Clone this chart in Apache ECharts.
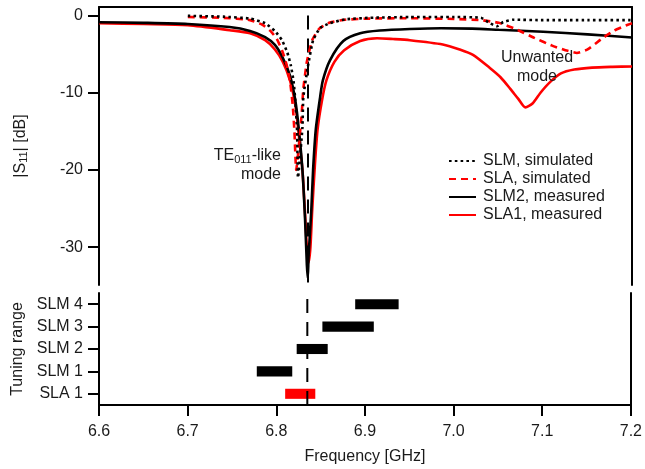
<!DOCTYPE html>
<html>
<head>
<meta charset="utf-8">
<script src="https://cdn.jsdelivr.net/npm/echarts@6/dist/echarts.min.js"></script>
<style>html,body{margin:0;padding:0;background:#fff}#c{width:645px;height:469px}</style>
</head>
<body>
<div id="c"></div>
<script>
// ---- data ----
const slmSimFreq = [6.700, 6.740, 6.770, 6.787, 6.798, 6.806, 6.812, 6.816, 6.819, 6.821, 6.823, 6.824, 6.829, 6.830, 6.835, 6.841, 6.849, 6.860, 6.877, 6.905, 6.950, 7.000, 7.030, 7.040, 7.048, 7.055, 7.066, 7.100, 7.150, 7.200];
const slmSimDb   = [-0.05, -0.15, -0.4, -1.0, -2.0, -3.2, -4.8, -6.5, -8.5, -11, -15, -21, -14.5, -10.6, -6.7, -3.2, -1.6, -1.0, -0.5, -0.3, -0.2, -0.2, -0.3, -1.0, -1.4, -0.85, -0.55, -0.6, -0.6, -0.6];

const slaSimFreq = [6.700, 6.740, 6.770, 6.784, 6.793, 6.800, 6.806, 6.811, 6.815, 6.818, 6.820, 6.822, 6.828, 6.830, 6.834, 6.840, 6.848, 6.860, 6.877, 6.905, 6.950, 7.000, 7.030, 7.050, 7.070, 7.090, 7.110, 7.125, 7.138, 7.150, 7.165, 7.180, 7.193, 7.200];
const slaSimDb   = [-0.2, -0.3, -0.6, -1.2, -2.0, -3.0, -4.5, -6.3, -8.5, -11.5, -15, -20, -13, -9.5, -6, -3.2, -1.7, -0.9, -0.55, -0.4, -0.35, -0.45, -0.6, -0.95, -1.8, -2.9, -3.9, -4.5, -4.85, -4.4, -3.1, -1.95, -1.3, -1.0];

const slm2Freq = [6.600, 6.650, 6.700, 6.747, 6.770, 6.787, 6.798, 6.807, 6.815, 6.821, 6.825, 6.829, 6.832, 6.834, 6.835, 6.836, 6.839, 6.841, 6.844, 6.849, 6.852, 6.860, 6.875, 6.894, 6.916, 6.950, 6.985, 7.020, 7.050, 7.100, 7.150, 7.200];
const slm2Db   = [-0.87, -0.95, -1.1, -1.5, -2.0, -2.8, -3.8, -5.5, -7.8, -11, -14.8, -20, -26.5, -32.3, -34, -31, -25.2, -20, -14.8, -10.5, -8.4, -5.8, -3.3, -2.3, -1.95, -1.75, -1.65, -1.7, -1.85, -2.1, -2.45, -2.85];

const sla1Freq = [6.600, 6.650, 6.700, 6.747, 6.770, 6.787, 6.798, 6.807, 6.815, 6.821, 6.825, 6.829, 6.832, 6.834, 6.836, 6.838, 6.840, 6.843, 6.846, 6.851, 6.856, 6.865, 6.876, 6.894, 6.913, 6.931, 6.950, 6.987, 7.006, 7.021, 7.040, 7.052, 7.063, 7.072, 7.080, 7.088, 7.097, 7.108, 7.120, 7.135, 7.155, 7.178, 7.200];
const sla1Db   = [-1.0, -1.1, -1.25, -1.9, -2.3, -3.2, -4.4, -6.0, -8.4, -11.6, -15.5, -20, -25.8, -30, -32, -30, -25.2, -19.4, -14.8, -11, -8.4, -6.0, -4.5, -3.3, -2.95, -3.05, -3.2, -3.75, -4.4, -5.1, -6.8, -8.0, -9.5, -10.8, -11.9, -11.4, -10.0, -8.6, -7.5, -7.0, -6.75, -6.65, -6.6];

const tuningNames = ['SLA 1', 'SLM 1', 'SLM 2', 'SLM 3', 'SLM 4'];
const tuningStart = [6.810, 6.778, 6.823, 6.852, 6.889];
const tuningEnd   = [6.844, 6.818, 6.858, 6.910, 6.938];
const tuningColor = ['#ff0000', '#000000', '#000000', '#000000', '#000000'];

const resonanceFreq = 6.835;
const yTicks = [0, -10, -20, -30];
const xTicks = [6.6, 6.7, 6.8, 6.9, 7.0, 7.1, 7.2];

// ---- chart ----
const FONT = "'Liberation Sans', Arial, sans-serif";
const TXT = '#1a1a1a';
const zip = (a, b) => a.map((v, i) => [v, b[i]]);
const axisLineStyle = { color: '#000', width: 2 };
const Y_MIN = -34.9, Y_MAX = 1.1;
const DASH = [14, 9];

const chart = echarts.init(document.getElementById('c'), null, { renderer: 'canvas' });
chart.setOption({
  animation: false,
  textStyle: { fontFamily: FONT },
  grid: [
    { left: 99, right: 13, top: 7, height: 278 },
    { left: 99, right: 13, top: 293, height: 112 }
  ],
  xAxis: [
    { gridIndex: 0, type: 'value', min: 6.6, max: 7.2, position: 'top',
      axisLine: { show: true, lineStyle: axisLineStyle, onZero: false },
      axisTick: { show: false }, axisLabel: { show: false }, splitLine: { show: false } },
    { gridIndex: 1, type: 'value', min: 6.6, max: 7.2, interval: 0.1, position: 'bottom',
      axisLine: { show: true, lineStyle: axisLineStyle, onZero: false },
      axisTick: { show: true, length: 11, lineStyle: { color: '#000', width: 2 } },
      axisLabel: { margin: 19, fontSize: 16, color: TXT, fontFamily: FONT,
        formatter: v => v.toFixed(1), customValues: xTicks },
      splitLine: { show: false },
      name: 'Frequency [GHz]', nameLocation: 'middle', nameGap: 44,
      nameTextStyle: { fontSize: 16, color: TXT, fontFamily: FONT } }
  ],
  yAxis: [
    { gridIndex: 0, type: 'value', min: Y_MIN, max: Y_MAX, position: 'left',
      axisLine: { show: true, lineStyle: axisLineStyle, onZero: false },
      axisTick: { show: true, length: 11, lineStyle: { color: '#000', width: 2 }, customValues: yTicks },
      axisLabel: { margin: 16, fontSize: 16, color: TXT, fontFamily: FONT, customValues: yTicks },
      splitLine: { show: false },
      name: '|S{s|11}| [dB]', nameLocation: 'middle', nameGap: 70, nameRotate: 90,
      nameTextStyle: { fontSize: 16, color: TXT, fontFamily: FONT,
        rich: { s: { fontSize: 11, verticalAlign: 'bottom', padding: [6, 0, 0, 0], color: TXT, fontFamily: FONT } } } },
    { gridIndex: 0, type: 'value', min: Y_MIN, max: Y_MAX, position: 'right',
      axisLine: { show: true, lineStyle: axisLineStyle, onZero: false },
      axisTick: { show: false }, axisLabel: { show: false }, splitLine: { show: false } },
    { gridIndex: 1, type: 'category', data: tuningNames, position: 'left',
      axisLine: { show: true, lineStyle: axisLineStyle, onZero: false },
      axisTick: { show: true, alignWithLabel: true, length: 11, lineStyle: { color: '#000', width: 2 } },
      axisLabel: { margin: 16, fontSize: 16, color: TXT, fontFamily: FONT },
      splitLine: { show: false },
      name: 'Tuning range', nameLocation: 'middle', nameGap: 70, nameRotate: 90,
      nameTextStyle: { fontSize: 16, color: TXT, fontFamily: FONT } },
    { gridIndex: 1, type: 'category', data: tuningNames, position: 'right',
      axisLine: { show: true, lineStyle: axisLineStyle, onZero: false },
      axisTick: { show: false }, axisLabel: { show: false }, splitLine: { show: false } },
    { gridIndex: 1, type: 'value', min: 0, max: 1, show: false }
  ],
  legend: {
    data: ['SLM, simulated', 'SLA, simulated', 'SLM2, measured', 'SLA1, measured'],
    orient: 'vertical', left: 443, top: 148,
    itemWidth: 27, itemHeight: 14, itemGap: 2,
    textStyle: { fontSize: 16, color: TXT, fontFamily: FONT, padding: [0, 0, 0, 2] },
    itemStyle: { opacity: 0 }
  },
  series: [
    { name: 'SLM, simulated', type: 'line', xAxisIndex: 0, yAxisIndex: 0, z: 6,
      data: zip(slmSimFreq, slmSimDb), symbol: 'none', smooth: 0.15,
      lineStyle: { color: '#000', width: 2.6, type: [2.6, 3.2] }, itemStyle: { color: '#000' },
      markLine: { silent: true, symbol: 'none', label: { show: false },
        lineStyle: { color: '#000', width: 2, type: DASH },
        data: [[{ coord: [resonanceFreq, 0] }, { coord: [resonanceFreq, Y_MIN] }]] } },
    { name: 'SLA, simulated', type: 'line', xAxisIndex: 0, yAxisIndex: 0, z: 5,
      data: zip(slaSimFreq, slaSimDb), symbol: 'none', smooth: 0.15,
      lineStyle: { color: '#ff0000', width: 2.6, type: [7, 5] }, itemStyle: { color: '#ff0000' } },
    { name: 'SLM2, measured', type: 'line', xAxisIndex: 0, yAxisIndex: 0, z: 4,
      data: zip(slm2Freq, slm2Db), symbol: 'none', smooth: 0.25,
      lineStyle: { color: '#000', width: 2.6 }, itemStyle: { color: '#000' } },
    { name: 'SLA1, measured', type: 'line', xAxisIndex: 0, yAxisIndex: 0, z: 3,
      data: zip(sla1Freq, sla1Db), symbol: 'none', smooth: 0.25,
      lineStyle: { color: '#ff0000', width: 2.6 }, itemStyle: { color: '#ff0000' } },
    { name: 'tuning', type: 'custom', xAxisIndex: 1, yAxisIndex: 2, z: 3,
      data: tuningNames.map((n, i) => ({ value: [tuningStart[i], tuningEnd[i], i], itemStyle: { color: tuningColor[i] } })),
      encode: { x: [0, 1], y: 2 },
      renderItem: (params, api) => {
        const c = api.value(2);
        const s = api.coord([api.value(0), c]);
        const e = api.coord([api.value(1), c]);
        const h = api.size([0, 1])[1] * 0.45;
        return { type: 'rect', shape: { x: s[0], y: s[1] - h / 2, width: e[0] - s[0], height: h },
          style: { fill: api.visual('color') } };
      } },
    { name: 'resonance', type: 'line', xAxisIndex: 1, yAxisIndex: 4, z: 6,
      data: [[resonanceFreq, 0], [resonanceFreq, 1]], symbol: 'none', silent: true,
      lineStyle: { color: '#000', width: 2, type: DASH } }
  ],
  graphic: [
    { type: 'text', x: 281, y: 146, z: 10,
      style: { text: '{n|TE}{s|011}{n|-like}\n{n|mode}', align: 'right', fill: TXT, font: '16px ' + FONT,
        rich: { n: { fontSize: 16, lineHeight: 19, fontFamily: FONT, fill: TXT, align: 'right' },
                s: { fontSize: 11, lineHeight: 19, fontFamily: FONT, fill: TXT, verticalAlign: 'bottom', padding: [8, 0, 0, 0] } } } },
    { type: 'text', x: 537, y: 48, z: 10,
      style: { text: 'Unwanted\nmode', align: 'center', fill: TXT, font: '16px ' + FONT, lineHeight: 19 } }
  ]
});
</script>
</body>
</html>
